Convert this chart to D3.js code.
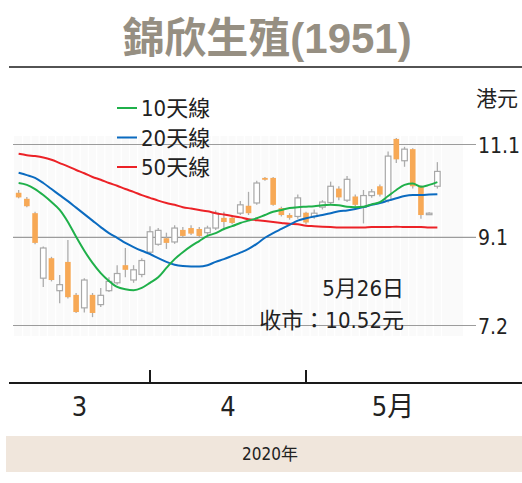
<!DOCTYPE html>
<html>
<head>
<meta charset="utf-8">
<script src="https://cdn.jsdelivr.net/npm/d3@7"></script>
<style>
  html, body { margin: 0; padding: 0; background: #fff; }
  svg { display: block; font-family: "Liberation Sans Narrow", "DejaVu Sans Condensed", "Noto Sans CJK TC", sans-serif; }
</style>
</head>
<body>
<svg id="chart" width="522" height="483"></svg>
<script>
// trading days shown, 2020
const dates = [
  "03-10", "03-11", "03-12", "03-13", "03-16", "03-17", "03-18", "03-19", "03-20", "03-23",
  "03-24", "03-25", "03-26", "03-27", "03-30", "03-31",
  "04-01", "04-02", "04-03", "04-06", "04-07", "04-08", "04-09", "04-14", "04-15", "04-16",
  "04-17", "04-20", "04-21", "04-22", "04-23", "04-24", "04-27", "04-28", "04-29",
  "05-04", "05-05", "05-06", "05-07", "05-08", "05-11", "05-12", "05-13", "05-14", "05-15",
  "05-18", "05-19", "05-20", "05-21", "05-22", "05-25", "05-26"
];

const openPx = [
  10.06, 9.93, 9.62, 8.22, 8.65, 7.95, 8.57, 7.86, 7.58, 7.86,
  7.65, 7.95, 8.12, 8.50, 8.18, 8.30, 8.78, 8.95, 9.08, 9.00,
  9.26, 9.30, 9.28, 9.20, 9.30, 9.52, 9.52, 9.62, 9.78, 9.84,
  10.38, 10.38, 9.73, 9.58, 9.55, 9.63, 9.55, 9.75, 9.85, 10.15,
  9.90, 9.98, 9.75, 10.00, 10.20, 9.90, 11.22, 10.75, 11.00, 10.20,
  9.60, 10.20
];
const highPx = [
  10.12, 9.97, 9.65, 8.90, 8.68, 8.29, 9.04, 7.90, 8.22, 7.90,
  8.01, 8.24, 8.50, 8.87, 8.50, 8.65, 9.34, 9.30, 9.20, 9.36,
  9.32, 9.36, 9.32, 9.35, 9.68, 9.65, 9.56, 9.88, 10.08, 10.32,
  10.40, 10.40, 9.76, 9.62, 10.02, 9.65, 9.70, 9.90, 10.30, 10.20,
  10.42, 10.02, 10.12, 10.14, 10.24, 10.95, 11.24, 11.05, 11.02, 10.22,
  9.64, 10.72
];
const lowPx = [
  9.94, 9.75, 8.95, 8.03, 8.15, 7.68, 7.78, 7.47, 7.48, 7.38,
  7.60, 7.92, 8.08, 8.24, 8.12, 8.24, 8.74, 8.92, 8.85, 8.96,
  9.10, 9.15, 9.10, 9.15, 9.26, 9.25, 9.38, 9.58, 9.58, 9.80,
  10.32, 9.78, 9.55, 9.48, 9.50, 9.38, 9.50, 9.70, 9.82, 9.90,
  9.86, 9.76, 9.40, 9.95, 9.98, 9.85, 10.70, 10.62, 10.15, 9.50,
  9.58, 10.15
];
const closePx = [
  9.96, 9.77, 8.98, 8.87, 8.18, 8.08, 7.81, 7.49, 8.18, 7.47,
  7.85, 8.15, 8.32, 8.40, 8.40, 8.60, 9.22, 9.25, 8.98, 9.30,
  9.13, 9.18, 9.13, 9.30, 9.62, 9.43, 9.41, 9.80, 9.62, 10.27,
  10.34, 9.80, 9.58, 9.52, 9.95, 9.42, 9.62, 9.86, 10.20, 9.96,
  10.35, 9.80, 10.00, 10.08, 10.02, 10.85, 10.78, 11.00, 10.20, 9.58,
  9.62, 10.52
];

const ma10 = [
  10.27, 10.23, 10.14, 10.01, 9.86, 9.69, 9.43, 9.11, 8.81, 8.55,
  8.33, 8.16, 8.03, 7.98, 7.96, 8.01, 8.12, 8.24, 8.44, 8.63,
  8.78, 8.91, 9.02, 9.13, 9.19, 9.28, 9.34, 9.41, 9.46, 9.51,
  9.58, 9.65, 9.69, 9.73, 9.75, 9.76, 9.77, 9.79, 9.80, 9.79,
  9.76, 9.75, 9.76, 9.81, 9.86, 9.99, 10.12, 10.23, 10.26, 10.19,
  10.23, 10.29
];
const ma20 = [
  10.49, 10.44, 10.38, 10.27, 10.14, 10.01, 9.88, 9.74, 9.60, 9.46,
  9.32, 9.19, 9.09, 8.98, 8.89, 8.81, 8.74, 8.65, 8.57, 8.51,
  8.48, 8.47, 8.47, 8.50, 8.57, 8.63, 8.70, 8.77, 8.85, 8.96,
  9.09, 9.19, 9.28, 9.37, 9.46, 9.51, 9.55, 9.58, 9.62, 9.66,
  9.68, 9.71, 9.75, 9.80, 9.84, 9.89, 9.94, 9.99, 10.01, 10.01,
  10.02, 10.03
];
const ma50 = [
  10.90, 10.87, 10.85, 10.82, 10.77, 10.70, 10.63, 10.55, 10.48, 10.40,
  10.34, 10.27, 10.21, 10.14, 10.08, 10.01, 9.95, 9.89, 9.84, 9.80,
  9.75, 9.72, 9.69, 9.66, 9.62, 9.59, 9.56, 9.53, 9.49, 9.47,
  9.45, 9.43, 9.41, 9.39, 9.38, 9.35, 9.34, 9.33, 9.32, 9.31,
  9.31, 9.31, 9.31, 9.32, 9.32, 9.32, 9.33, 9.32, 9.32, 9.32,
  9.31, 9.31
];

const yTicks = [7.2, 9.1, 11.1];
const monthLabels = ["3", "4", "5月"];
const legendLabels = ["10天線", "20天線", "50天線"];
const lastDate = "5月26日";
const lastClose = "收市：10.52元";

const svg = d3.select("#chart");

const rows = dates.map((d, i) => ({
  i, date: d,
  open: openPx[i], high: highPx[i], low: lowPx[i], close: closePx[i]
}));

// first trading day of April sits on the first tick, first of May on the second
const monthStarts = rows.filter((r, i) => i > 0 && r.date.slice(0, 2) !== rows[i - 1].date.slice(0, 2)).map((r) => r.i);

const x = d3.scaleLinear().domain([monthStarts[0], monthStarts[1]]).range([150, 306]);
const y = d3.scaleLinear().domain([7.2, 11.1]).range([325.5, 144.5]);

// title
svg.append("text")
  .attr("x", 267).attr("y", 53)
  .attr("text-anchor", "middle")
  .attr("fill", "#968f82")
  .attr("font-family", "'Liberation Sans', 'Noto Sans CJK TC', sans-serif")
  .attr("font-weight", "bold")
  .attr("font-size", 42)
  .text("錦欣生殖(1951)");

svg.append("line")
  .attr("x1", 9).attr("x2", 522).attr("y1", 67).attr("y2", 67)
  .attr("stroke", "#1a1a1a").attr("stroke-width", 1.6);

// faint plot backdrop
svg.append("rect")
  .attr("x", 14).attr("y", 136).attr("width", 449).attr("height", 200)
  .attr("fill", "#fafafa");
svg.append("g")
  .selectAll("line")
  .data(rows)
  .join("line")
  .attr("x1", (d) => x(d.i) + 4.1).attr("x2", (d) => x(d.i) + 4.1)
  .attr("y1", 136).attr("y2", 336)
  .attr("stroke", "#fff").attr("stroke-width", 1.2);

// grid
svg.append("g")
  .selectAll("line")
  .data(yTicks)
  .join("line")
  .attr("x1", 13).attr("x2", 476)
  .attr("y1", (d) => y(d)).attr("y2", (d) => y(d))
  .attr("stroke", "#9c9c9c").attr("stroke-width", 1.2);

svg.append("g")
  .selectAll("text")
  .data(yTicks)
  .join("text")
  .attr("x", 478)
  .attr("y", (d) => y(d) + 8)
  .attr("font-size", 21)
  .attr("fill", "#222")
  .text((d) => d3.format(".1f")(d));

svg.append("text")
  .attr("x", 476).attr("y", 106)
  .attr("font-size", 21).attr("fill", "#222")
  .text("港元");

// candles
const defs = svg.append("defs");
defs.append("filter").attr("id", "soft")
  .append("feGaussianBlur").attr("stdDeviation", 0.45);

const candles = svg.append("g").attr("filter", "url(#soft)");
const bodyW = 5.6;

candles.selectAll("line.wick")
  .data(rows)
  .join("line")
  .attr("class", "wick")
  .attr("x1", (d) => x(d.i)).attr("x2", (d) => x(d.i))
  .attr("y1", (d) => y(d.high)).attr("y2", (d) => y(d.low))
  .attr("stroke", "#adadad").attr("stroke-width", 1.3);

candles.selectAll("rect.body")
  .data(rows)
  .join("rect")
  .attr("class", "body")
  .attr("x", (d) => x(d.i) - bodyW / 2)
  .attr("width", bodyW)
  .attr("y", (d) => y(Math.max(d.open, d.close)))
  .attr("height", (d) => Math.max(1.5, Math.abs(y(d.open) - y(d.close))))
  .attr("fill", (d) => (d.close < d.open ? "#f7a957" : "#fff"))
  .attr("stroke", (d) => (d.close < d.open ? "none" : "#a8a8a8"))
  .attr("stroke-width", 1.2);

// moving averages
const line = d3.line().x((d, i) => x(i)).y((d) => y(d)).curve(d3.curveMonotoneX);
const maSeries = [
  { values: ma50, color: "#ec2227" },
  { values: ma20, color: "#0b6bc0" },
  { values: ma10, color: "#1fb04a" }
];
svg.append("g")
  .selectAll("path")
  .data(maSeries)
  .join("path")
  .attr("d", (d) => line(d.values))
  .attr("fill", "none")
  .attr("stroke", (d) => d.color)
  .attr("stroke-width", 2);

// legend
const legend = svg.append("g")
  .selectAll("g")
  .data(legendLabels)
  .join("g")
  .attr("transform", (d, i) => `translate(117, ${108 + i * 29.5})`);
legend.append("line")
  .attr("x1", 0).attr("x2", 20)
  .attr("stroke", (d, i) => [ "#1fb04a", "#0b6bc0", "#ec2227" ][i])
  .attr("stroke-width", 2);
legend.append("text")
  .attr("x", 24).attr("y", 8)
  .attr("font-size", 22).attr("fill", "#222")
  .text((d) => d);

// annotation
svg.append("text")
  .attr("x", 404).attr("y", 296)
  .attr("text-anchor", "end")
  .attr("font-size", 22).attr("fill", "#222")
  .text(lastDate);
svg.append("text")
  .attr("x", 404).attr("y", 328)
  .attr("text-anchor", "end")
  .attr("font-size", 22).attr("fill", "#222")
  .text(lastClose);

// x axis
const tickX = monthStarts.map((i) => x(i));
svg.append("line")
  .attr("x1", 9).attr("x2", 522).attr("y1", 383).attr("y2", 383)
  .attr("stroke", "#1a1a1a").attr("stroke-width", 2);
svg.append("g")
  .selectAll("line")
  .data(tickX)
  .join("line")
  .attr("x1", (d) => d).attr("x2", (d) => d)
  .attr("y1", 370).attr("y2", 383)
  .attr("stroke", "#1a1a1a").attr("stroke-width", 2);

const edges = [9, ...tickX, 480];
svg.append("g")
  .selectAll("text")
  .data(monthLabels)
  .join("text")
  .attr("x", (d, i) => (edges[i] + edges[i + 1]) / 2)
  .attr("y", 416)
  .attr("text-anchor", "middle")
  .attr("font-size", 27).attr("fill", "#222")
  .text((d) => d);

// year band
svg.append("rect")
  .attr("x", 6).attr("y", 436).attr("width", 516).attr("height", 36)
  .attr("fill", "#f0e6dc");
svg.append("text")
  .attr("x", 270).attr("y", 460)
  .attr("text-anchor", "middle")
  .attr("font-size", 17).attr("fill", "#222")
  .text("2020年");
</script>
</body>
</html>
